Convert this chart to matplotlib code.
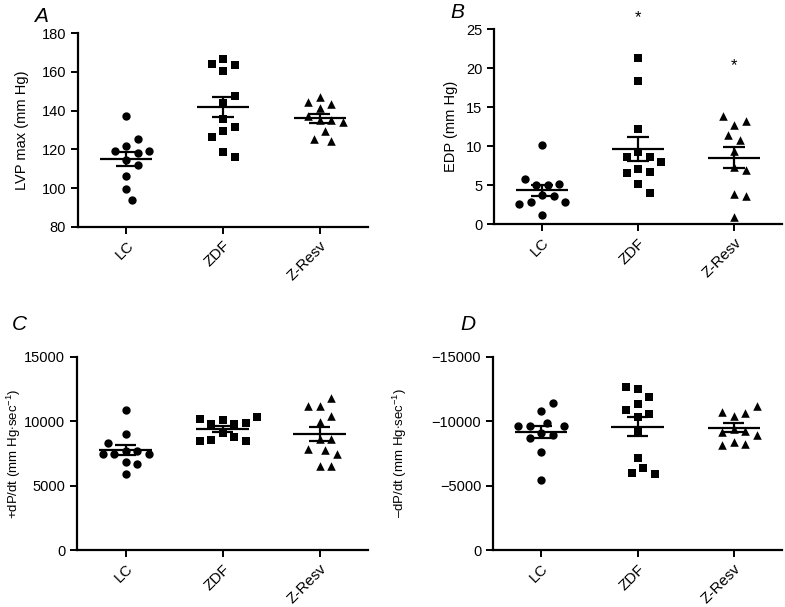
import numpy as np
import matplotlib
matplotlib.use("Agg")
import matplotlib.pyplot as plt

plt.rcParams['font.family'] = ['Liberation Sans', 'DejaVu Sans']
plt.rcParams['mathtext.fontset'] = 'custom'
plt.rcParams['mathtext.rm'] = 'Liberation Sans'
plt.rcParams['mathtext.it'] = 'Liberation Sans:italic'

groups = ['LC', 'ZDF', 'Z-Resv']

# A: LVP max (mm Hg)
lvp_lc = [137.4, 125.2, 121.7, 119.2, 119.2, 118.0, 114.5, 111.9, 106.2, 99.3, 93.8]
lvp_zdf = [166.6, 164.3, 163.6, 160.5, 147.8, 143.8, 135.6, 131.4, 129.5, 126.2, 118.5, 116.2]
lvp_zr = [147.3, 144.3, 143.5, 141.2, 137.3, 135.2, 135.2, 134.3, 129.5, 125.2, 124.3]

# B: EDP (mm Hg)
edp_lc = [10.1, 5.8, 5.1, 5.0, 5.0, 3.7, 3.6, 2.8, 2.8, 2.6, 1.2]
edp_zdf = [21.3, 18.3, 12.2, 9.2, 8.6, 8.6, 7.9, 7.1, 6.7, 6.5, 5.2, 4.0]
edp_zr = [13.9, 13.2, 12.7, 11.4, 10.8, 9.4, 7.3, 6.9, 3.8, 3.6, 0.9]

# C: +dP/dt
pdp_lc = [10860, 9000, 8300, 7700, 7700, 7450, 7450, 7450, 6800, 6700, 5900]
pdp_zdf = [10300, 10170, 10100, 9880, 9750, 9750, 9060, 8730, 8500, 8480, 8430]
pdp_zr = [11770, 11200, 11200, 10420, 9960, 8610, 8610, 7840, 7760, 7420, 6540, 6540]

# D: -dP/dt
ndp_lc = [-11380, -10810, -9880, -9620, -9620, -9620, -9100, -8920, -8710, -7630, -5430]
ndp_zdf = [-12630, -12490, -11900, -11310, -10860, -10550, -10300, -9230, -7120, -6340, -6000, -5900]
ndp_zr = [-11200, -10730, -10650, -10420, -9360, -9230, -9130, -8920, -8360, -8230, -8150]

markers = ['o', 's', '^']

fig = plt.figure(figsize=(7.85, 6.07), dpi=100)
W, H = 785.0, 607.0


def make_ax(left, right, top, bottom):
    return fig.add_axes([left / W, 1 - bottom / H, (right - left) / W, (bottom - top) / H])


def swarm(ax, vals, d_px):
    # simple beeswarm offsets in pixel space, returned in x data units
    ypix = ax.transData.transform(np.column_stack([np.zeros(len(vals)), vals]))[:, 1]
    xscale = ax.bbox.width / 3.0
    order = np.argsort(np.abs(np.array(vals) - np.mean(vals)))
    placed = []
    offs = np.zeros(len(vals))
    for i in order:
        for k in range(0, 40):
            cands = [0.0] if k == 0 else [k * d_px / 2, -k * d_px / 2]
            ok = None
            for c in cands:
                if all((c - px) ** 2 + (ypix[i] - py) ** 2 >= d_px ** 2 for px, py in placed):
                    ok = c
                    break
            if ok is not None:
                offs[i] = ok
                placed.append((ok, ypix[i]))
                break
    return offs / xscale


def panel(ax, data, ylim, yticks, ylabel, label_x, label_size):
    ax.set_xlim(-0.5, 2.5)
    ax.set_ylim(*ylim)
    for sp in ['top', 'right']:
        ax.spines[sp].set_visible(False)
    for sp in ['left', 'bottom']:
        ax.spines[sp].set_linewidth(1.6)
    ax.set_yticks(yticks)
    ax.set_xticks(range(3))
    ax.set_xticklabels(groups, rotation=45, ha='right', rotation_mode='anchor')
    ax.tick_params(width=1.4, length=5, labelsize=11, direction='out')
    ax.tick_params(axis='y', labelsize=10.5, pad=3.5)
    ax.set_ylabel(ylabel, fontsize=label_size)
    ax.yaxis.set_label_coords(label_x, 0.5)
    for g, vals in enumerate(data):
        vals = np.array(vals, dtype=float)
        offs = swarm(ax, vals, 11.5)
        ax.scatter(g + offs, vals, marker=markers[g], s=36 if g == 0 else 38,
                   color='black', linewidths=0, zorder=3, clip_on=False)
        m = vals.mean()
        sem = vals.std(ddof=1) / np.sqrt(len(vals))
        ax.hlines(m, g - 0.27, g + 0.27, color='black', lw=1.6, zorder=4)
        ax.vlines(g, m - sem, m + sem, color='black', lw=1.6, zorder=4)
        ax.hlines([m - sem, m + sem], g - 0.11, g + 0.11, color='black', lw=1.6, zorder=4)


axA = make_ax(78, 368, 33.3, 226.7)
axB = make_ax(494, 782, 29.3, 224)
axC = make_ax(77, 368, 356.7, 550)
axD = make_ax(493, 782, 356.7, 550)

panel(axA, [lvp_lc, lvp_zdf, lvp_zr], (80, 180), [80, 100, 120, 140, 160, 180],
      'LVP max (mm Hg)', -0.17, 10.5)
panel(axB, [edp_lc, edp_zdf, edp_zr], (0, 25), [0, 5, 10, 15, 20, 25],
      'EDP (mm Hg)', -0.125, 10.5)
panel(axC, [pdp_lc, pdp_zdf, pdp_zr], (0, 15000), [0, 5000, 10000, 15000],
      '+dP/dt (mm Hg$\\cdot$sec$^{-1}$)', -0.185, 9.5)
panel(axD, [ndp_lc, ndp_zdf, ndp_zr], (0, -15000), [0, -5000, -10000, -15000],
      '\u2013dP/dt (mm Hg$\\cdot$sec$^{-1}$)', -0.29, 9.5)

# significance marks
axB.text(1, 26.5, '*', ha='center', va='center', fontsize=12, clip_on=False)
axB.text(2, 20.3, '*', ha='center', va='center', fontsize=12, clip_on=False)

for lbl, x, y in [('A', 41, 17), ('B', 457, 13), ('C', 19, 325), ('D', 468, 325)]:
    fig.text(x / W, 1 - y / H, lbl, fontsize=15, style='italic', ha='center', va='center')

plt.savefig('out.png', dpi=100)
